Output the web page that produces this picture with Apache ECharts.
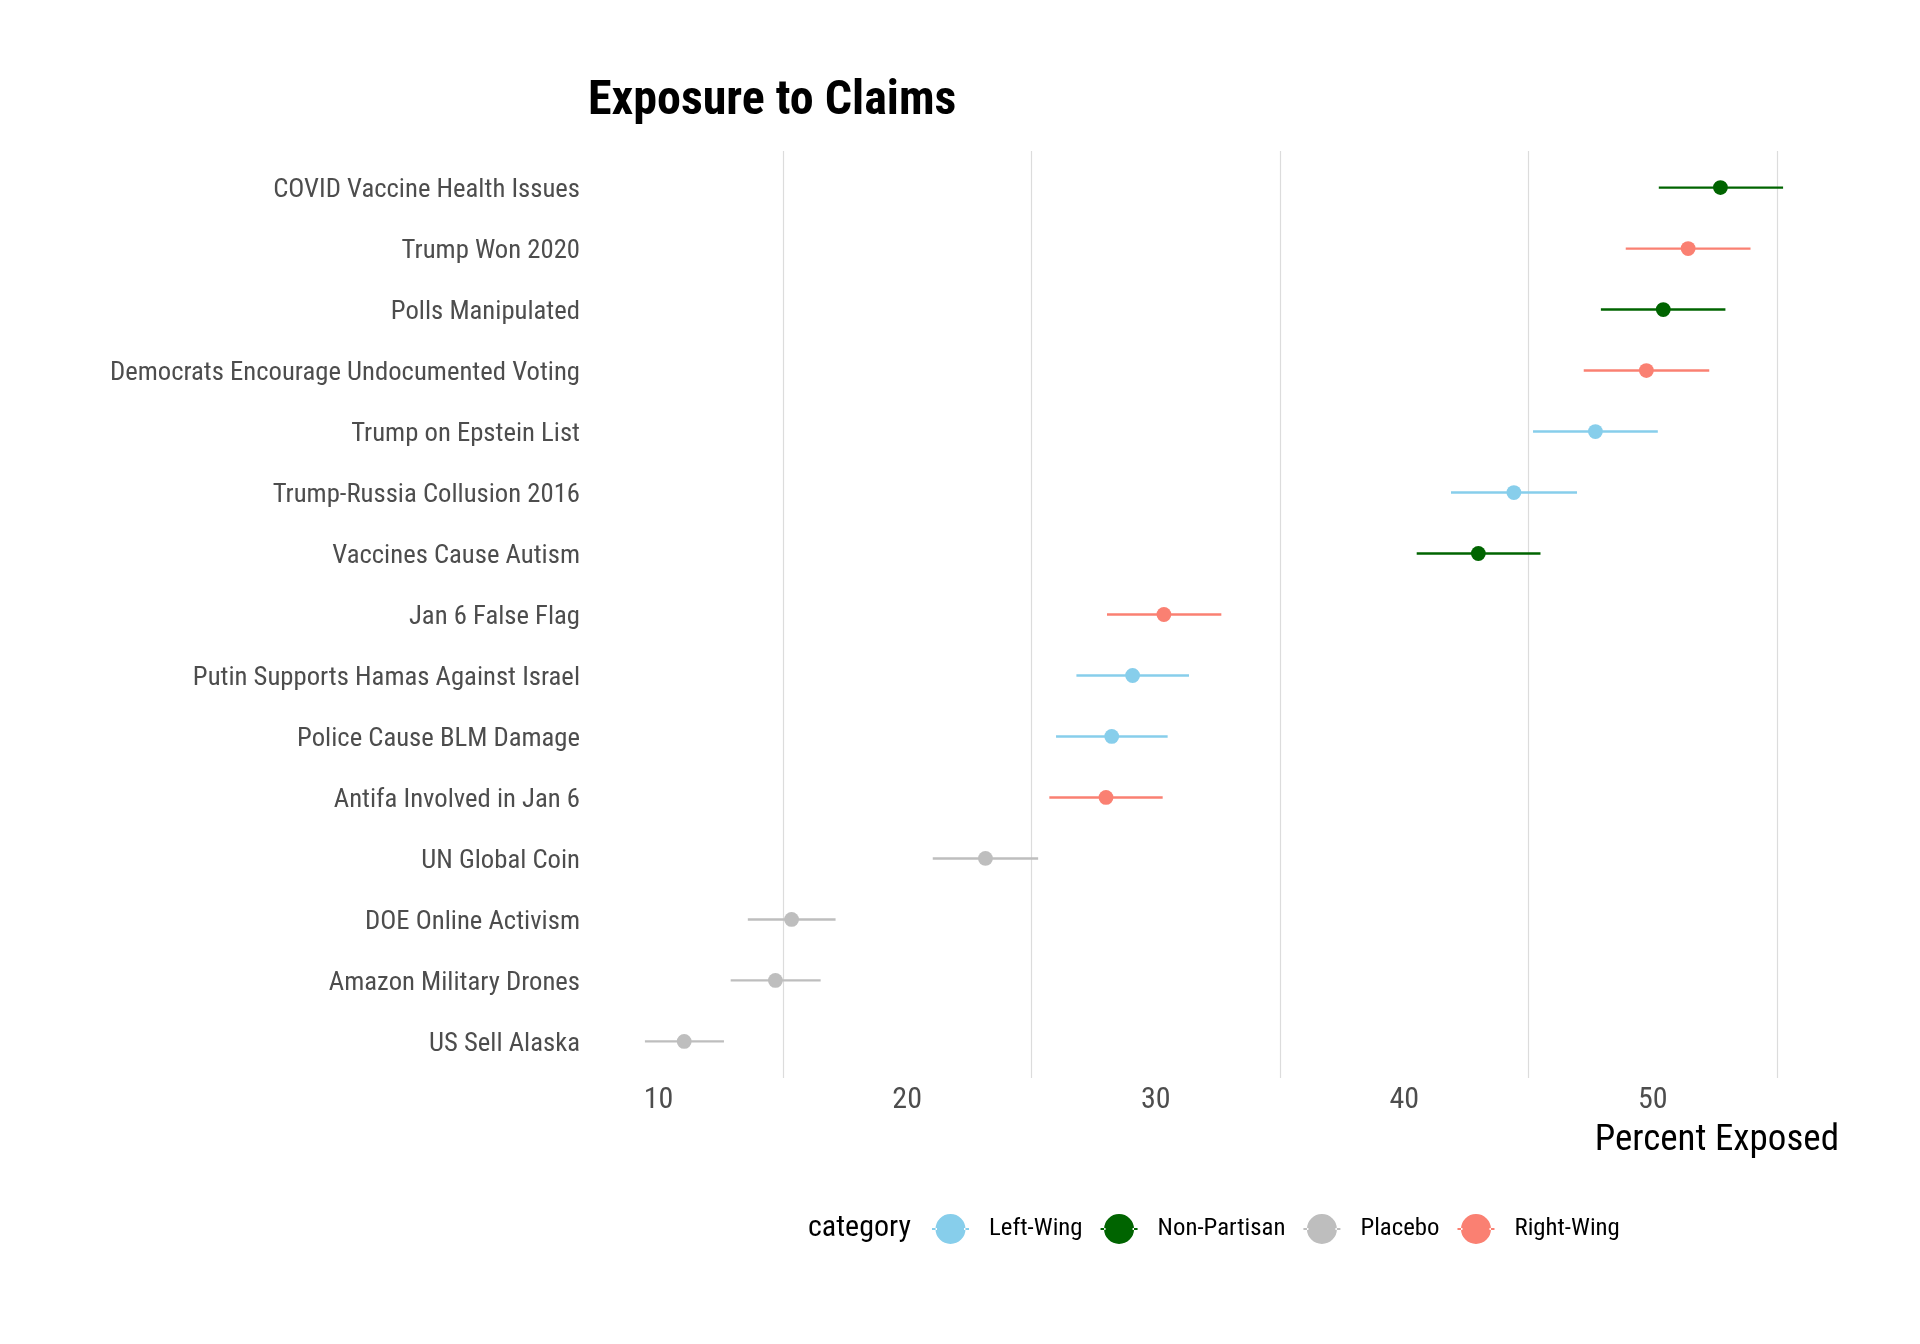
<!DOCTYPE html>
<html>
<head>
<meta charset="utf-8">
<script src="https://cdn.jsdelivr.net/npm/echarts@6/dist/echarts.min.js"></script>
<style>
  html, body { margin: 0; padding: 0; background: #fff; }
  #main { width: 1920px; height: 1344px; }
</style>
</head>
<body>
<div id="main"></div>
<script>
// claims, top to bottom
const claims = [
  'COVID Vaccine Health Issues',
  'Trump Won 2020',
  'Polls Manipulated',
  'Democrats Encourage Undocumented Voting',
  'Trump on Epstein List',
  'Trump-Russia Collusion 2016',
  'Vaccines Cause Autism',
  'Jan 6 False Flag',
  'Putin Supports Hamas Against Israel',
  'Police Cause BLM Damage',
  'Antifa Involved in Jan 6',
  'UN Global Coin',
  'DOE Online Activism',
  'Amazon Military Drones',
  'US Sell Alaska'
]
const groups = [
  'Non-Partisan', 'Right-Wing', 'Non-Partisan', 'Right-Wing', 'Left-Wing',
  'Left-Wing', 'Non-Partisan', 'Right-Wing', 'Left-Wing', 'Left-Wing',
  'Right-Wing', 'Placebo', 'Placebo', 'Placebo', 'Placebo'
]
const pct  = [52.72, 51.42, 50.42, 49.74, 47.69, 44.41, 42.98, 30.33, 29.07, 28.23, 28.00, 23.15, 15.35, 14.70, 11.03]
const low  = [50.24, 48.91, 47.91, 47.22, 45.18, 41.88, 40.50, 28.04, 26.81, 25.99, 25.72, 21.03, 13.59, 12.90, 9.45]
const high = [55.24, 53.93, 52.92, 52.27, 50.20, 46.95, 45.48, 32.64, 31.34, 30.48, 30.28, 25.27, 17.12, 16.52, 12.63]

const categories = ['Left-Wing', 'Non-Partisan', 'Placebo', 'Right-Wing']
const colors = ['#87CEEB', '#006400', '#BEBEBE', '#FA8072']
const xLabels = [10, 20, 30, 40, 50]
const xGrid = [15, 25, 35, 45, 55]
const rowIdx = claims.map((c, i) => i)

const font = "'Roboto Condensed', 'Liberation Sans Narrow', 'DejaVu Sans Condensed', Roboto, sans-serif"
// legend key: point with a short errorbar stub each side
const keyIcon = 'path://M0,14H5V16H0Z M32,14H37V16H32Z M3.5,15A15,15 0 1,0 33.5,15A15,15 0 1,0 3.5,15Z'

const chart = echarts.init(document.getElementById('main'), null, { renderer: 'canvas' })

const series = categories.map((cat, k) => ({
  name: cat,
  type: 'custom',
  data: claims.map((c, i) => [pct[i], i, low[i], high[i], groups[i]]).filter(d => d[4] === cat),
  encode: { x: [0, 2, 3], y: 1 },
  renderItem: (params, api) => {
    const p = api.coord([api.value(0), api.value(1)])
    const a = api.coord([api.value(2), api.value(1)])
    const b = api.coord([api.value(3), api.value(1)])
    return {
      type: 'group',
      children: [
        { type: 'line', shape: { x1: a[0], y1: a[1], x2: b[0], y2: b[1] }, style: { stroke: colors[k], lineWidth: 2.4 } },
        { type: 'circle', shape: { cx: p[0], cy: p[1], r: 7.4 }, style: { fill: colors[k] } }
      ]
    }
  }
}))

const option = {
  animation: false,
  color: colors,
  title: [
    { text: 'Exposure to Claims', left: 583, top: 73, textStyle: { fontFamily: font, fontSize: 48, fontWeight: 'bold', color: '#000' } },
    { text: 'Percent Exposed', right: 76, top: 1117, textStyle: { fontFamily: font, fontSize: 37, fontWeight: 'normal', color: '#000' } },
    { text: 'category', left: 803, top: 1208, textStyle: { fontFamily: font, fontSize: 30, fontWeight: 'normal', color: '#000' } }
  ],
  legend: {
    left: 927,
    top: 1209,
    itemWidth: 37,
    itemHeight: 30,
    itemGap: 18,
    icon: keyIcon,
    data: categories,
    textStyle: { fontFamily: font, fontSize: 24.8, color: '#000', padding: [0, 0, 0, 15] }
  },
  grid: { left: 588, right: 80, top: 151, bottom: 266 },
  xAxis: {
    type: 'value',
    min: 7.16,
    max: 57.53,
    axisLine: { show: false },
    axisTick: { show: false, customValues: xGrid },
    axisLabel: { customValues: xLabels, color: '#4D4D4D', fontFamily: font, fontSize: 30, margin: 7 },
    splitLine: { show: true, lineStyle: { color: '#DCDCDC', width: 1.2 } }
  },
  yAxis: {
    type: 'value',
    min: -0.6,
    max: 14.6,
    inverse: true,
    axisLine: { show: false },
    axisTick: { show: false, customValues: rowIdx },
    axisLabel: {
      customValues: rowIdx,
      formatter: v => claims[v],
      color: '#4D4D4D', fontFamily: font, fontSize: 26.7, margin: 8,
      verticalAlign: 'top', lineHeight: 5
    },
    splitLine: { show: false }
  },
  series: series
}

chart.setOption(option)
</script>
</body>
</html>
